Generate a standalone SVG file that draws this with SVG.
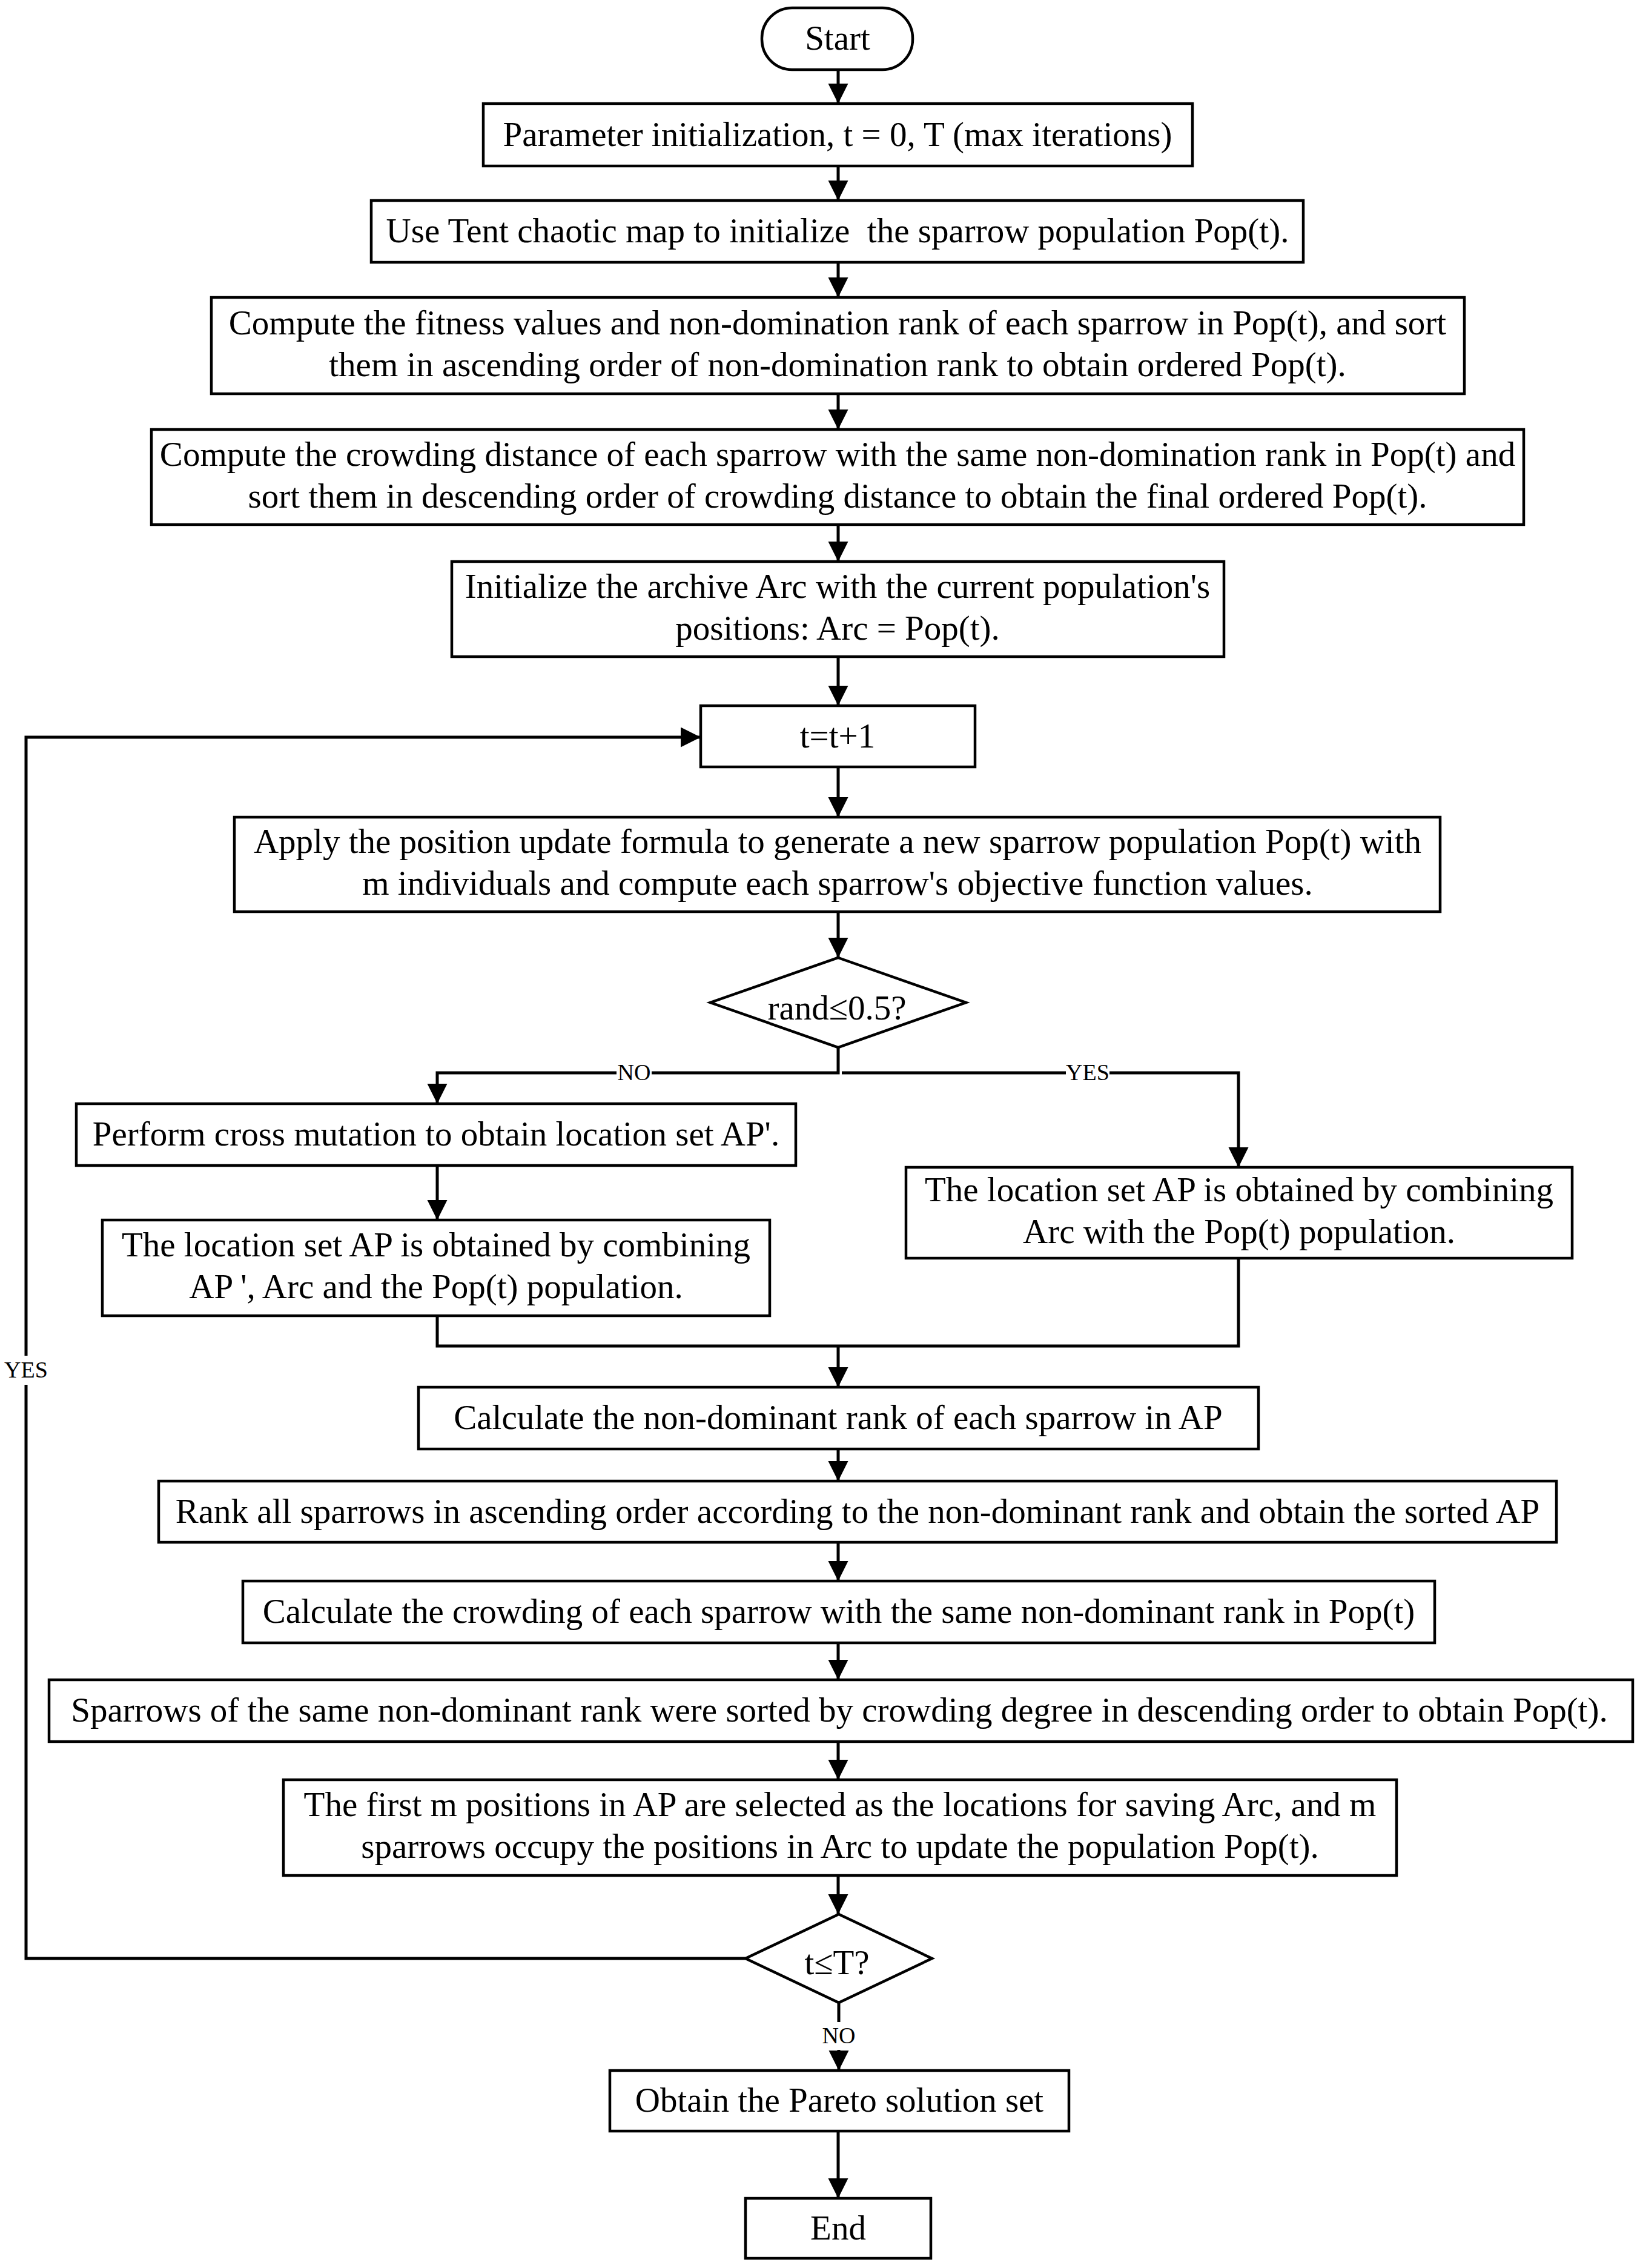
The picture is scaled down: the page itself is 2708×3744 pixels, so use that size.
<svg xmlns="http://www.w3.org/2000/svg" width="2708" height="3744" viewBox="0 0 2708 3744">
<style>
.box{fill:#fff;stroke:#000;stroke-width:4.5}
.t{font-family:"Liberation Serif","Times New Roman",serif;font-size:57px;text-anchor:middle;fill:#000}
.lbl{font-family:"Liberation Serif","Times New Roman",serif;font-size:38px;text-anchor:middle;fill:#000}
.c{fill:none;stroke:#000;stroke-width:5}
.a{marker-end:url(#arr)}
</style>
<defs>
<marker id="arr" markerUnits="userSpaceOnUse" markerWidth="34" markerHeight="34" viewBox="0 0 34 34" refX="33" refY="16.5" orient="auto">
<path d="M0,0 L33,16.5 L0,33 Z" fill="#000"/>
</marker>
</defs>
<rect width="2708" height="3744" fill="#fff"/>
<g id="connectors">
<path class="c a" d="M1384,115 V171"/>
<path class="c a" d="M1384,274 V331"/>
<path class="c a" d="M1384,433 V491"/>
<path class="c a" d="M1384,650 V709"/>
<path class="c a" d="M1384,866 V927"/>
<path class="c a" d="M1384,1084 V1165"/>
<path class="c a" d="M1384,1266 V1349"/>
<path class="c a" d="M1384,1505 V1581"/>
<path class="c" d="M1384,1729 V1771 H1076"/>
<path class="c a" d="M1018,1771 H722 V1822"/>
<path class="c" d="M1390,1771 H1760"/>
<path class="c a" d="M1832,1771 H2045 V1927"/>
<path class="c a" d="M722,1924 V2014"/>
<path class="c" d="M722,2172 V2222 H2045 V2077"/>
<path class="c a" d="M1384,2222 V2290"/>
<path class="c a" d="M1384,2392 V2445"/>
<path class="c a" d="M1384,2546 V2610"/>
<path class="c a" d="M1384,2712 V2773"/>
<path class="c a" d="M1384,2875 V2938"/>
<path class="c a" d="M1384,3096 V3160"/>
<path class="c" d="M1231,3233 H43 V2286"/>
<path class="c a" d="M43,2238 V1217 H1157"/>
<path class="c" d="M1385,3306 V3338"/>
<path class="c a" d="M1385,3384 V3418"/>
<path class="c a" d="M1384,3518 V3629"/>
<text class="lbl" x="1047" y="1783">NO</text>
<text class="lbl" x="1796" y="1783">YES</text>
<text class="lbl" x="43" y="2274">YES</text>
<text class="lbl" x="1385" y="3373">NO</text>
</g>
<g id="start">
<rect class="box" x="1258" y="13" width="249" height="102" rx="50" ry="50"/>
<text class="t" x="1383" y="82">Start</text>
</g>
<g id="param">
<rect class="box" x="798" y="171" width="1171" height="103"/>
<text class="t" x="1383" y="241">Parameter initialization, t = 0, T (max iterations)</text>
</g>
<g id="tent">
<rect class="box" x="613" y="331" width="1539" height="102"/>
<text class="t" x="1383" y="400" xml:space="preserve">Use Tent chaotic map to initialize  the sparrow population Pop(t).</text>
</g>
<g id="fitness">
<rect class="box" x="349" y="491" width="2069" height="159"/>
<text class="t" x="1383" y="552">Compute the fitness values and non-domination rank of each sparrow in Pop(t), and sort</text>
<text class="t" x="1383" y="621">them in ascending order of non-domination rank to obtain ordered Pop(t).</text>
</g>
<g id="crowding">
<rect class="box" x="250" y="709" width="2266" height="157"/>
<text class="t" x="1383" y="769">Compute the crowding distance of each sparrow with the same non-domination rank in Pop(t) and</text>
<text class="t" x="1383" y="838">sort them in descending order of crowding distance to obtain the final ordered Pop(t).</text>
</g>
<g id="archive">
<rect class="box" x="746" y="927" width="1275" height="157"/>
<text class="t" x="1383" y="987">Initialize the archive Arc with the current population's</text>
<text class="t" x="1383" y="1056">positions: Arc = Pop(t).</text>
</g>
<g id="tinc">
<rect class="box" x="1157" y="1165" width="453" height="101"/>
<text class="t" x="1383" y="1234">t=t+1</text>
</g>
<g id="apply">
<rect class="box" x="387" y="1349" width="1991" height="156"/>
<text class="t" x="1383" y="1408">Apply the position update formula to generate a new sparrow population Pop(t) with</text>
<text class="t" x="1383" y="1477">m individuals and compute each sparrow's objective function values.</text>
</g>
<g id="rand">
<polygon class="box" points="1384,1581 1595,1655 1384,1729 1173,1655"/>
<text class="t" x="1382" y="1683">rand≤0.5?</text>
</g>
<g id="mutation">
<rect class="box" x="126" y="1822" width="1188" height="102"/>
<text class="t" x="720" y="1891">Perform cross mutation to obtain location set AP'.</text>
</g>
<g id="combineLeft">
<rect class="box" x="169" y="2014" width="1102" height="158"/>
<text class="t" x="720" y="2074">The location set AP is obtained by combining</text>
<text class="t" x="720" y="2143">AP ', Arc and the Pop(t) population.</text>
</g>
<g id="combineRight">
<rect class="box" x="1496" y="1927" width="1100" height="150"/>
<text class="t" x="2046" y="1983">The location set AP is obtained by combining</text>
<text class="t" x="2046" y="2052">Arc with the Pop(t) population.</text>
</g>
<g id="calcRank">
<rect class="box" x="691" y="2290" width="1387" height="102"/>
<text class="t" x="1384" y="2359">Calculate the non-dominant rank of each sparrow in AP</text>
</g>
<g id="sortRank">
<rect class="box" x="262" y="2445" width="2308" height="101"/>
<text class="t" x="1416" y="2514">Rank all sparrows in ascending order according to the non-dominant rank and obtain the sorted AP</text>
</g>
<g id="calcCrowd">
<rect class="box" x="401" y="2610" width="1968" height="102"/>
<text class="t" x="1385" y="2679">Calculate the crowding of each sparrow with the same non-dominant rank in Pop(t)</text>
</g>
<g id="sortCrowd">
<rect class="box" x="81" y="2773" width="2615" height="102"/>
<text class="t" x="1386" y="2842">Sparrows of the same non-dominant rank were sorted by crowding degree in descending order to obtain Pop(t).</text>
</g>
<g id="select">
<rect class="box" x="468" y="2938" width="1838" height="158"/>
<text class="t" x="1387" y="2998">The first m positions in AP are selected as the locations for saving Arc, and m</text>
<text class="t" x="1387" y="3067">sparrows occupy the positions in Arc to update the population Pop(t).</text>
</g>
<g id="check">
<polygon class="box" points="1385,3160 1539,3233 1385,3306 1231,3233"/>
<text class="t" x="1382" y="3259">t≤T?</text>
</g>
<g id="pareto">
<rect class="box" x="1007" y="3418" width="758" height="100"/>
<text class="t" x="1386" y="3486">Obtain the Pareto solution set</text>
</g>
<g id="end">
<rect class="box" x="1231" y="3629" width="306" height="99"/>
<text class="t" x="1384" y="3697">End</text>
</g>
</svg>
